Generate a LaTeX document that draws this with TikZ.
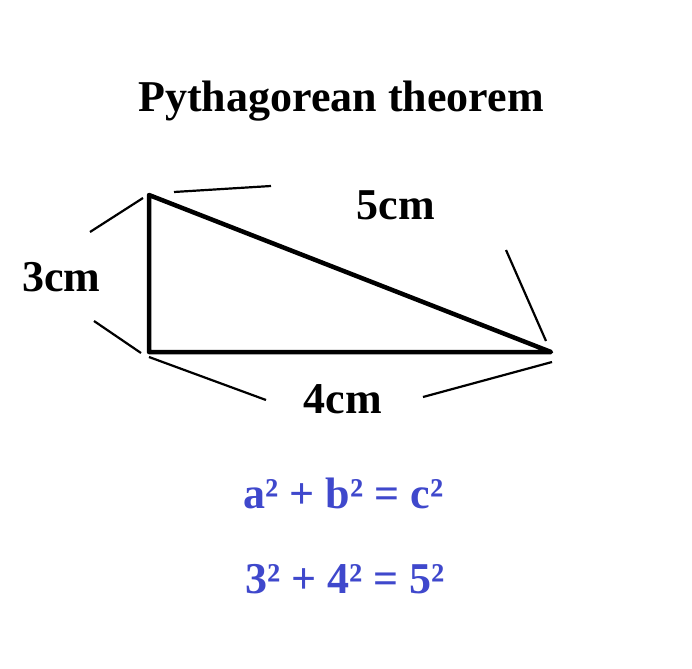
\documentclass[tikz,border=0pt]{standalone}
\usepackage{fontspec}
\setmainfont{Liberation Serif}
\definecolor{eqblue}{HTML}{3F48CC}
\begin{document}
\begin{tikzpicture}[x=1pt,y=-1pt,
  lbl/.style={font=\fontsize{44}{50}\selectfont\bfseries,anchor=base,inner sep=0pt},
  side/.style={line width=4.5pt,line join=round},
  dim/.style={line width=2.2pt}]
\useasboundingbox[fill=white] (0,0) rectangle (692,668);
\coordinate (A) at (149,195);
\coordinate (B) at (149,352);
\coordinate (C) at (551,352);
\draw[side] (A) -- (B) -- (C) -- cycle;
% dimension ticks
\coordinate (l1a) at (90,232); \coordinate (l1b) at (143,198);
\coordinate (l2a) at (94,321); \coordinate (l2b) at (141,353);
\coordinate (t1a) at (174,192); \coordinate (t1b) at (271,186);
\coordinate (b1a) at (149,357); \coordinate (b1b) at (266,400);
\coordinate (r1a) at (506,250); \coordinate (r1b) at (546,341);
\coordinate (r2a) at (423,397); \coordinate (r2b) at (552,362);
\draw[dim] (l1a) -- (l1b);
\draw[dim] (l2a) -- (l2b);
\draw[dim] (t1a) -- (t1b);
\draw[dim] (b1a) -- (b1b);
\draw[dim] (r1a) -- (r1b);
\draw[dim] (r2a) -- (r2b);
% texts
\node[lbl] (title) at (341,112) {Pythagorean theorem};
\node[lbl] (c) at (396,219) {5cm};
\node[lbl] (a) at (61.5,291) {3cm};
\node[lbl] (b) at (343,413) {4cm};
\node[lbl,text=eqblue] (eq1) at (343.5,508) {a² + b² = c²};
\node[lbl,text=eqblue] (eq2) at (345,593) {3² + 4² = 5²};
\end{tikzpicture}
\end{document}
